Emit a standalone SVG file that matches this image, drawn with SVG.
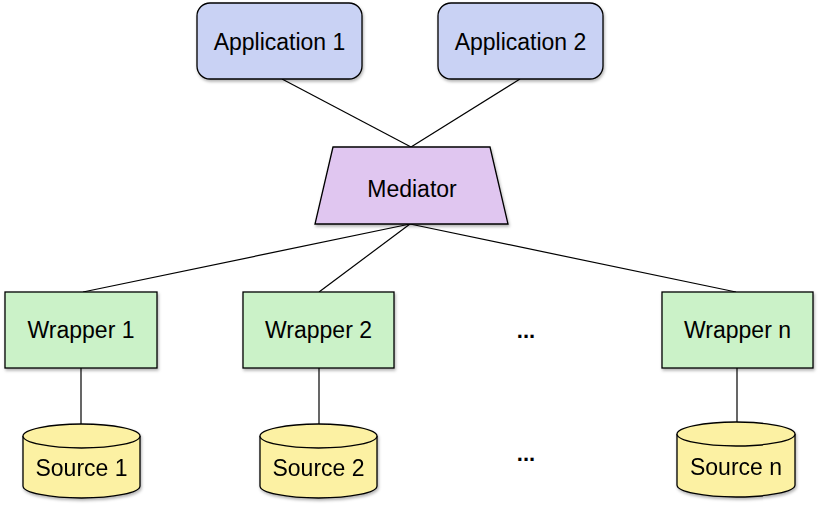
<svg xmlns="http://www.w3.org/2000/svg" width="818" height="507" viewBox="0 0 818 507">
<defs>
<filter id="sh" x="-10%" y="-10%" width="130%" height="140%">
<feDropShadow dx="1" dy="2" stdDeviation="1.5" flood-color="#000" flood-opacity="0.3"/>
</filter>
<style>
.app{fill:#c9d2f4;stroke:#000;stroke-width:1.3;filter:url(#sh)}
.med{fill:#e0c6f0;stroke:#000;stroke-width:1.3;filter:url(#sh)}
.wrap{fill:#cbf2c8;stroke:#000;stroke-width:1.3;filter:url(#sh)}
.src{fill:#fcf1a3;stroke:#000;stroke-width:1.3}
.srcg{filter:url(#sh)}
.lbl{font-family:"Liberation Sans",Arial,sans-serif;font-size:23px;fill:#000;text-anchor:middle}
.dots{font-family:"Liberation Sans",Arial,sans-serif;font-size:22px;font-weight:bold;fill:#000;text-anchor:middle}
.conn line{stroke:#000;stroke-width:1.2}
</style>
</defs>
<rect width="818" height="507" fill="#fff"/>
<g id="connectors" class="conn">
<line x1="282" y1="79" x2="411" y2="147"/>
<line x1="520" y1="79" x2="411" y2="147"/>
<line x1="410" y1="224" x2="83" y2="292"/>
<line x1="410" y1="224" x2="319" y2="292"/>
<line x1="410" y1="224" x2="736" y2="292"/>
<line x1="81" y1="368" x2="81" y2="424"/>
<line x1="319" y1="368" x2="319" y2="424"/>
<line x1="737" y1="368" x2="737" y2="422"/>
</g>
<g id="app1">
<rect class="app" x="197" y="3" width="165" height="76" rx="13"/>
<text class="lbl" x="279.5" y="50">Application 1</text>
</g>
<g id="app2">
<rect class="app" x="438" y="3" width="165" height="76" rx="13"/>
<text class="lbl" x="520.5" y="50">Application 2</text>
</g>
<g id="mediator">
<polygon class="med" points="333,147 490,147 508,224 315,224"/>
<text class="lbl" x="412" y="197">Mediator</text>
</g>
<g id="wrapper1">
<rect class="wrap" x="5" y="292" width="152" height="76"/>
<text class="lbl" x="81" y="338">Wrapper 1</text>
</g>
<g id="wrapper2">
<rect class="wrap" x="243" y="292" width="151" height="76"/>
<text class="lbl" x="318.5" y="338">Wrapper 2</text>
</g>
<g id="wrappern">
<rect class="wrap" x="662" y="292" width="151" height="76"/>
<text class="lbl" x="737.5" y="338">Wrapper n</text>
</g>
<g id="dots1"><text class="dots" x="526" y="338">...</text></g>
<g id="dots2"><text class="dots" x="526" y="461">...</text></g>
<g id="source1" class="srcg">
<path class="src" d="M23,436 A58.5,12 0 0 1 140,436 L140,486 A58.5,12 0 0 1 23,486 Z"/>
<path class="src" d="M23,436 A58.5,12 0 0 0 140,436" fill="none"/>
<text class="lbl" x="81.5" y="476">Source 1</text>
</g>
<g id="source2" class="srcg">
<path class="src" d="M260,436 A58.5,12 0 0 1 377,436 L377,486 A58.5,12 0 0 1 260,486 Z"/>
<path class="src" d="M260,436 A58.5,12 0 0 0 377,436" fill="none"/>
<text class="lbl" x="318.5" y="476">Source 2</text>
</g>
<g id="sourcen" class="srcg">
<path class="src" d="M677,434 A59,12 0 0 1 795,434 L795,485 A59,12 0 0 1 677,485 Z"/>
<path class="src" d="M677,434 A59,12 0 0 0 795,434" fill="none"/>
<text class="lbl" x="736" y="475">Source n</text>
</g>
</svg>
